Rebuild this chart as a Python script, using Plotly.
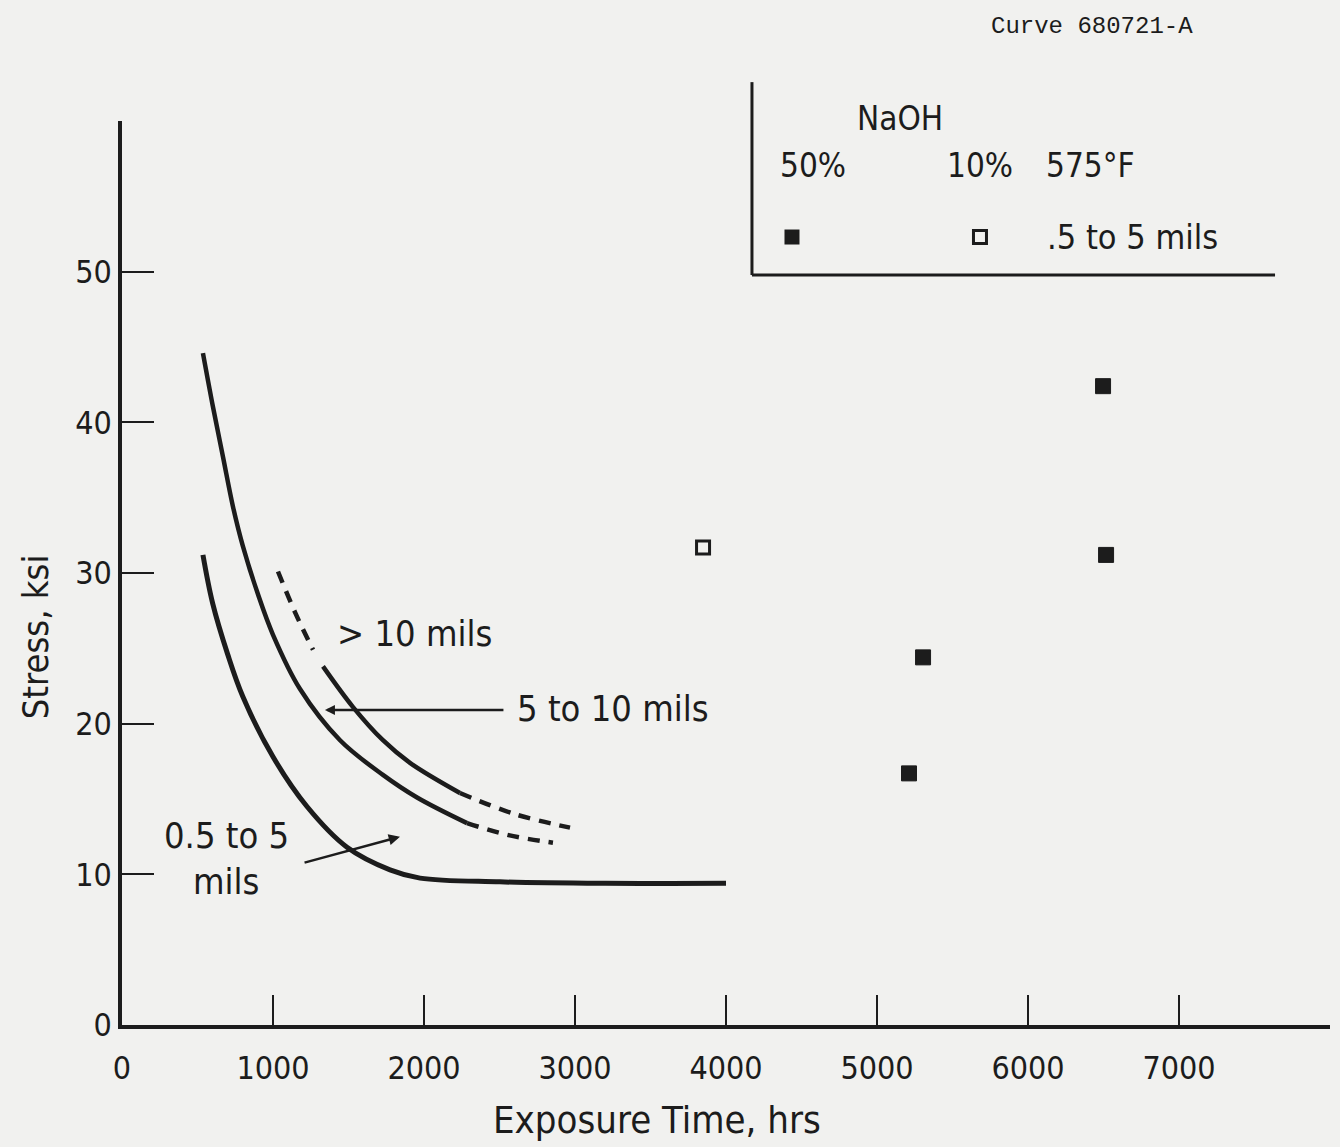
import plotly.graph_objects as go

# ---- data ----
# 0.5 to 5 mils curve
c05_x = [536, 600, 700, 800, 1000, 1225, 1490, 1775, 1974, 2503, 3200, 4000]
c05_y = [31.2, 28.0, 24.6, 21.8, 17.8, 14.5, 11.8, 10.3, 9.75, 9.5, 9.4, 9.4]
# 5 to 10 mils curve (solid then dashed extension)
c510_x = [536, 603, 669, 735, 800, 900, 1000, 1179, 1444, 1728, 1954, 2285]
c510_y = [44.6, 41.0, 37.7, 34.4, 31.8, 28.6, 25.9, 22.3, 18.9, 16.6, 15.1, 13.4]
c510_dx = [2285, 2560, 2854]
c510_dy = [13.4, 12.6, 12.1]
# > 10 mils curve (dashed start, solid middle, dashed end)
c10_sx = [1033, 1150, 1265]
c10_sy = [30.1, 27.3, 24.9]
c10_x = [1331, 1530, 1728, 1907, 2238]
c10_y = [23.8, 21.1, 18.9, 17.4, 15.4]
c10_ex = [2238, 2600, 2967]
c10_ey = [15.4, 14.0, 13.1]
# test points
naoh50_x = [5212, 5305, 6517, 6497]
naoh50_y = [16.7, 24.4, 31.2, 42.4]
naoh10_x = [3848]
naoh10_y = [31.7]
# key symbols
key_x = [4437, 5682]
key_y = [52.3, 52.3]

x_ticks = [0, 1000, 2000, 3000, 4000, 5000, 6000, 7000]
y_ticks = [0, 10, 20, 30, 40, 50]

INK = "#1c1c1c"
BG = "#f1f1ef"
FONT = "Liberation Sans Narrow, DejaVu Sans Condensed, Liberation Sans, sans-serif"

fig = go.Figure()

def line(x, y, dash="solid", width=4.5):
    fig.add_trace(go.Scatter(x=x, y=y, mode="lines",
                             line=dict(color=INK, width=width, dash=dash, shape="spline", smoothing=1.0),
                             showlegend=False, hoverinfo="skip"))

DASH = "12px,9px"
line(c05_x, c05_y, width=5)
line(c510_x, c510_y)
line(c510_dx, c510_dy, dash=DASH)
line(c10_sx, c10_sy, dash=DASH)
line(c10_x, c10_y)
line(c10_ex, c10_ey, dash=DASH)

fig.add_trace(go.Scatter(x=naoh50_x, y=naoh50_y, mode="markers", cliponaxis=False,
                         marker=dict(symbol="square", size=15, color=INK, line=dict(color=INK, width=1)),
                         showlegend=False))
fig.add_trace(go.Scatter(x=naoh10_x, y=naoh10_y, mode="markers", cliponaxis=False,
                         marker=dict(symbol="square-open", size=13, color=INK, line=dict(color=INK, width=3)),
                         showlegend=False))
fig.add_trace(go.Scatter(x=key_x[:1], y=key_y[:1], mode="markers", cliponaxis=False,
                         marker=dict(symbol="square", size=15, color=INK), showlegend=False))
fig.add_trace(go.Scatter(x=key_x[1:], y=key_y[1:], mode="markers", cliponaxis=False,
                         marker=dict(symbol="square-open", size=13, color=INK, line=dict(color=INK, width=3)),
                         showlegend=False))

def ann(text, x, y, size=36, xanchor="center", ref="data", fam=FONT, angle=0):
    d = dict(text=text, x=x, y=y, showarrow=False, xanchor=xanchor, yanchor="middle", textangle=angle,
             font=dict(size=size, color=INK, family=fam))
    if ref == "paper":
        d.update(xref="paper", yref="paper")
    fig.add_annotation(**d)

ann("&gt; 10 mils", 1940, 26.0)
ann("5 to 10 mils", 2603, 21.0, xanchor="left")
ann("0.5 to 5", 695, 12.6)
ann("mils", 689, 9.5)

fig.add_annotation(x=1344, y=20.9, ax=2536, ay=20.9, axref="x", ayref="y", text="", showarrow=True,
                   arrowhead=2, arrowsize=0.8, arrowwidth=2.5, arrowcolor=INK)
fig.add_annotation(x=1841, y=12.5, ax=1199, ay=10.75, axref="x", ayref="y", text="", showarrow=True,
                   arrowhead=2, arrowsize=0.9, arrowwidth=2.5, arrowcolor=INK)

# key box texts
ann("NaOH", 0.644, 1.003, size=33, ref="paper")
ann("50%", 0.572, 0.951, size=33, ref="paper")
ann("10%", 0.710, 0.951, size=33, ref="paper")
ann("575°F", 0.802, 0.951, size=33, ref="paper")
ann(".5 to 5 mils", 0.764, 0.872, size=34, xanchor="left", ref="paper")
ann("Curve 680721-A", 0.803, 1.104, size=24, ref="paper", fam="Liberation Mono, DejaVu Sans Mono, monospace")

# axis titles
ann("Stress, ksi", -0.072, 0.429, size=36, ref="paper", angle=-90)
ann("Exposure Time, hrs", 0.443, -0.105, size=38, ref="paper")

fig.add_shape(type="line", xref="paper", yref="paper", x0=0.5215, x1=0.5215, y0=1.043, y1=0.8296,
              line=dict(color=INK, width=3))
fig.add_shape(type="line", xref="paper", yref="paper", x0=0.5215, x1=0.9545, y0=0.8296, y1=0.8296,
              line=dict(color=INK, width=3))

fig.update_xaxes(range=[0, 8000], tickvals=x_ticks, ticktext=[str(v) for v in x_ticks],
                 ticks="inside", ticklen=30, tickwidth=2, tickcolor=INK,
                 showline=True, linecolor=INK, linewidth=3.5, showgrid=False, zeroline=False,
                 tickfont=dict(size=32, color=INK, family=FONT), ticklabelstandoff=12)
fig.update_yaxes(range=[0, 60], tickvals=y_ticks, ticktext=[str(v) for v in y_ticks],
                 ticks="inside", ticklen=32, tickwidth=2, tickcolor=INK,
                 showline=True, linecolor=INK, linewidth=3.5, showgrid=False, zeroline=False,
                 tickfont=dict(size=32, color=INK, family=FONT), ticklabelstandoff=0)

fig.update_layout(width=1340, height=1147, margin=dict(l=122, r=10, t=121, b=122),
                  paper_bgcolor=BG, plot_bgcolor=BG, showlegend=False)

fig.write_html("out.html", config={"displayModeBar": False},
               post_script="document.body.style.margin='0px';document.body.style.overflow='hidden';")
